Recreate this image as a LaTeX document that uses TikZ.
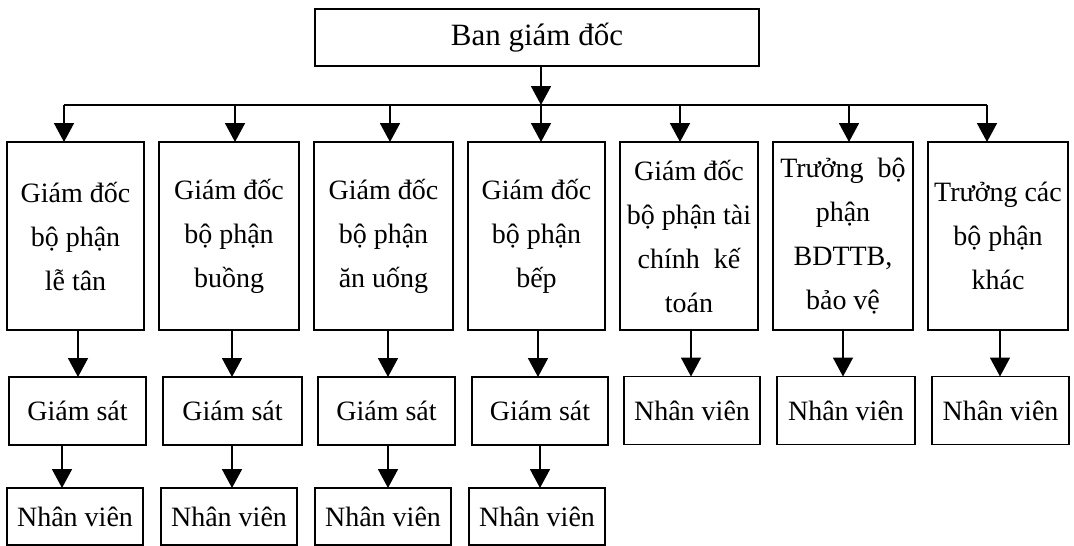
\documentclass[tikz,border=0pt]{standalone}
\usepackage{fontspec}
\setmainfont{Liberation Serif}
\usetikzlibrary{arrows.meta}
\begin{document}
\begin{tikzpicture}[x=1pt,y=-1pt,
  wire/.style={line width=1.8pt},
  arr/.style={wire,-{Triangle[width=20pt,length=19pt]}},
  box/.style={draw,line width=1.8pt,inner sep=0pt,outer sep=0pt,align=center,
    font=\fontsize{28}{44}\selectfont},
  tall/.style={box,minimum height=188pt},
  mid/.style={box,minimum height=68pt},
  low/.style={box,minimum height=57pt}]
\useasboundingbox (0,0) rectangle (1074,546);

% management board
\node[box,minimum width=444pt,minimum height=57pt,font=\fontsize{31}{36}\selectfont]
  (top) at (537,37.5) {Ban giám đốc};

% department heads
\node[tall,minimum width=137pt] (g1) at (75.5,236) {Giám đốc\\bộ phận\\lễ tân};
\node[tall,minimum width=140pt] (g2) at (229,236) {Giám đốc\\bộ phận\\buồng};
\node[tall,minimum width=139pt] (g3) at (383.5,236) {Giám đốc\\bộ phận\\ăn uống};
\node[tall,minimum width=137pt] (g4) at (536.5,236) {Giám đốc\\bộ phận\\bếp};
\node[tall,minimum width=138pt] (g5) at (689,236) {Giám đốc\\bộ phận tài\\chính\ \ kế\\toán};
\node[tall,minimum width=140pt] (g6) at (843,236) {Trưởng\ \ bộ\\phận\\BDTTB,\\bảo vệ};
\node[tall,minimum width=140pt] (g7) at (998,236) {Trưởng các\\bộ phận\\khác};

% supervisors / staff
\node[mid,minimum width=137pt] (s1) at (77.5,411) {Giám sát};
\node[mid,minimum width=139pt] (s2) at (232.5,411) {Giám sát};
\node[mid,minimum width=137pt] (s3) at (386.5,411) {Giám sát};
\node[mid,minimum width=136pt] (s4) at (540,411) {Giám sát};
\node[mid,minimum width=136pt] (n5) at (692,410.5) {Nhân viên};
\node[mid,minimum width=138pt] (n6) at (846,410.5) {Nhân viên};
\node[mid,minimum width=137pt] (n7) at (1000.5,410.5) {Nhân viên};

% staff under supervisors
\node[low,minimum width=136pt] (b1) at (75,516.5) {Nhân viên};
\node[low,minimum width=136pt] (b2) at (229,516.5) {Nhân viên};
\node[low,minimum width=136pt] (b3) at (383,516.5) {Nhân viên};
\node[low,minimum width=136pt] (b4) at (537,516.5) {Nhân viên};

% distribution bus
\coordinate (d1) at (64,105);
\coordinate (d2) at (235,105);
\coordinate (d3) at (390,105);
\coordinate (d4) at (541,105);
\coordinate (d5) at (680,105);
\coordinate (d6) at (849,105);
\coordinate (d7) at (987,105);
\draw[wire] (d1) -- (d7);
\draw[arr] (top.south -| d4) -- (d4);
\foreach \i in {1,...,7}{
  \draw[arr] (d\i) -- (d\i |- g\i.north);
}

% second level links
\draw[arr] (g1.south -| 78,0) -- (s1.north -| 78,0);
\draw[arr] (g2.south -| 232,0) -- (s2.north -| 232,0);
\draw[arr] (g3.south -| 388,0) -- (s3.north -| 388,0);
\draw[arr] (g4.south -| 538,0) -- (s4.north -| 538,0);
\draw[arr] (g5.south -| 691,0) -- (n5.north -| 691,0);
\draw[arr] (g6.south -| 843,0) -- (n6.north -| 843,0);
\draw[arr] (g7.south -| 1000,0) -- (n7.north -| 1000,0);

% third level links
\draw[arr] (s1.south -| 62,0) -- (b1.north -| 62,0);
\draw[arr] (s2.south -| 232,0) -- (b2.north -| 232,0);
\draw[arr] (s3.south -| 388,0) -- (b3.north -| 388,0);
\draw[arr] (s4.south -| 540,0) -- (b4.north -| 540,0);
\end{tikzpicture}
\end{document}
